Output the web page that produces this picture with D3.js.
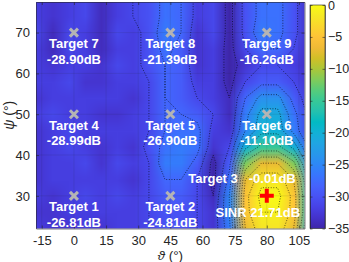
<!DOCTYPE html>
<html>
<head>
<meta charset="utf-8">
<script src="https://cdn.jsdelivr.net/npm/d3@7"></script>
<style>
  body { margin: 0; background: #fff; }
  svg { display: block; font-family: "Liberation Sans", Arial, sans-serif; }
</style>
</head>
<body>
<div id="chart"></div>
<script>
// grid of the beam pattern (dB)
const thetaCols = [-17.5, -10, -2.5, 5, 12.5, 20, 27.5, 35, 42.5, 50, 57.5, 65, 72.5, 80, 87.5, 95, 102.5, 110];
const psiRows = [78, 74, 70, 66, 62, 58, 54, 50, 46, 42, 38, 34, 30, 26, 22];
const gainDb = [
  [-32,-33,-32,-31,-34,-32,-31,-30, -27,-28,-32,-31,-35,-30,-27,-27,-30,-34],
  [-32,-33,-32,-31,-34,-32,-31,-30, -27,-28,-32,-31,-35,-30,-27,-27,-30,-34],
  [-31,-34,-31,-32,-34,-31,-32,-30, -26,-28,-33,-31,-35,-30,-26,-27,-30,-34],
  [-32,-34,-31,-32,-34,-32,-32,-30, -27,-29,-33,-32,-35,-31,-28,-28,-31,-34],
  [-32,-33,-32,-32,-33,-31,-32,-30, -28,-29,-33,-32,-35,-33,-31,-31,-32,-34],
  [-32,-32,-31,-33,-33,-32,-32,-31, -28,-29,-32,-32,-35,-31,-29,-29,-31,-33],
  [-33,-32,-32,-32,-32,-32,-33,-31, -28,-29,-31,-32,-34,-28,-24,-24,-29,-33],
  [-32,-31,-32,-32,-33,-33,-32,-31, -28,-28,-29,-31,-34,-26,-21,-21,-27,-32],
  [-33,-32,-31,-32,-32,-32,-32,-31, -28,-27,-27,-32,-33,-25,-20,-20,-26,-32],
  [-33,-32,-31,-32,-33,-32,-33,-30, -27,-26,-27,-33,-31,-20,-15,-15,-20,-29],
  [-33,-32,-32,-31,-33,-31,-32,-31, -26,-26,-29,-35,-29,-12, -7, -7,-12,-25],
  [-33,-32,-32,-32,-32,-32,-33,-31, -28,-28,-31,-35,-27, -7, -2, -2, -7,-21],
  [-32,-33,-32,-31,-32,-31,-32,-31, -29,-29,-31,-34,-25, -5,  0,  0, -5,-19],
  [-33,-33,-32,-32,-32,-32,-32,-31, -30,-30,-31,-33,-25, -5, -1, -1, -5,-19],
  [-32,-33,-33,-32,-33,-32,-32,-31, -30,-30,-31,-33,-26, -7, -2, -2, -7,-21]
];
const contourLevels = [-34, -31, -28, -25, -22, -19, -16, -13, -10, -7, -4, -1];

const xTicks = [-15, 0, 15, 30, 45, 60, 75, 90, 105];
const xTickLabels = ["-15", "0", "15", "30", "45", "60", "75", "80", "105"];
const yTicks = [30, 40, 50, 60, 70];
const cbTicks = [0, -5, -10, -15, -20, -25, -30, -35];

const targetNames = ["Target 1", "Target 2", "Target 3", "Target 4", "Target 5", "Target 6", "Target 7", "Target 8", "Target 9"];
const targetTheta = [0, 45, 90, 0, 45, 90, 0, 45, 90];
const targetPsi = [30, 30, 30, 50, 50, 50, 70, 70, 70];
const targetDb = ["-26.81", "-24.81", "-0.01", "-28.99", "-26.90", "-11.10", "-28.90", "-21.39", "-16.26"];
const sinrText = "SINR 21.71dB";

// parula, every third entry of the 64-colour map
const parula = [
  "#3e26a8", "#4432cb", "#4741e5", "#4852f4", "#4563fd", "#3875fe", "#2e87f7", "#2797eb",
  "#20a5e3", "#12b1d6", "#02bac3", "#24c1ae", "#37c897", "#57cc7a", "#81cc59", "#abc739",
  "#d1bf27", "#f0ba36", "#fec338", "#fad62d", "#f5e924", "#f9fb15"
];
const cMin = -35, cMax = 0;

const width = 349, height = 262;
const margin = { left: 36, right: 304.5, top: 2, bottom: 228.5 };

const x = d3.scaleLinear().domain([-17.7, 107.6]).range([margin.left, margin.right]);
const y = d3.scaleLinear().domain([22, 77.5]).range([margin.bottom, margin.top]);
const colorDomain = parula.map((c, i) => cMin + (cMax - cMin) * i / (parula.length - 1));
const color = d3.scaleLinear().domain(colorDomain).range(parula).clamp(true);

const svg = d3.select("#chart").append("svg")
  .attr("width", width)
  .attr("height", height);

svg.append("clipPath").attr("id", "plotclip")
  .append("rect")
  .attr("x", margin.left).attr("y", margin.top)
  .attr("width", margin.right - margin.left)
  .attr("height", margin.bottom - margin.top);

const plot = svg.append("g").attr("clip-path", "url(#plotclip)");

// heat map: one pixel per grid value, scaled up by the browser
const nx = thetaCols.length, ny = psiRows.length;
const dTheta = thetaCols[1] - thetaCols[0];
const dPsi = psiRows[0] - psiRows[1];
const canvas = document.createElement("canvas");
canvas.width = nx;
canvas.height = ny;
const ctx = canvas.getContext("2d");
gainDb.forEach((row, r) => {
  row.forEach((v, c) => {
    ctx.fillStyle = color(v);
    ctx.fillRect(c, r, 1, 1);
  });
});

const x0 = x(thetaCols[0] - dTheta / 2), x1 = x(thetaCols[nx - 1] + dTheta / 2);
const y0 = y(psiRows[0] + dPsi / 2), y1 = y(psiRows[ny - 1] - dPsi / 2);
plot.append("image")
  .attr("href", canvas.toDataURL())
  .attr("x", x0).attr("y", y0)
  .attr("width", x1 - x0).attr("height", y1 - y0)
  .attr("preserveAspectRatio", "none");

// contour lines
const contours = d3.contours().size([nx, ny]).thresholds(contourLevels)(gainDb.flat());
const toPlot = d3.geoTransform({
  point: function (gx, gy) {
    this.stream.point(
      x(thetaCols[0] + (gx - 0.5) * dTheta),
      y(psiRows[0] - (gy - 0.5) * dPsi)
    );
  }
});
const path = d3.geoPath(toPlot);
plot.append("g")
  .selectAll("path")
  .data(contours)
  .enter()
  .append("path")
  .attr("d", path)
  .attr("fill", "none")
  .attr("stroke", "#000")
  .attr("stroke-opacity", 0.75)
  .attr("stroke-width", 0.8)
  .attr("stroke-dasharray", "1,1.6");

// grid lines
plot.append("g").selectAll("line").data(xTicks).enter().append("line")
  .attr("x1", d => x(d)).attr("x2", d => x(d))
  .attr("y1", margin.top).attr("y2", margin.bottom)
  .attr("stroke", "#262626").attr("stroke-opacity", 0.18).attr("stroke-width", 0.6);
plot.append("g").selectAll("line").data(yTicks).enter().append("line")
  .attr("y1", d => y(d)).attr("y2", d => y(d))
  .attr("x1", margin.left).attr("x2", margin.right)
  .attr("stroke", "#262626").attr("stroke-opacity", 0.18).attr("stroke-width", 0.6);

// axes
const axisColor = "#262626";
const xAxis = svg.append("g")
  .attr("transform", "translate(0," + margin.bottom + ")")
  .call(d3.axisBottom(x).tickValues(xTicks).tickFormat((d, i) => xTickLabels[i])
    .tickSizeInner(-3).tickSizeOuter(0).tickPadding(7));
const xAxisTop = svg.append("g")
  .attr("transform", "translate(0," + margin.top + ")")
  .call(d3.axisTop(x).tickValues(xTicks).tickFormat("").tickSizeInner(-3).tickSizeOuter(0));
const yAxis = svg.append("g")
  .attr("transform", "translate(" + margin.left + ",0)")
  .call(d3.axisLeft(y).tickValues(yTicks).tickSizeInner(-3).tickSizeOuter(0).tickPadding(6));
const yAxisRight = svg.append("g")
  .attr("transform", "translate(" + margin.right + ",0)")
  .call(d3.axisRight(y).tickValues(yTicks).tickFormat("").tickSizeInner(-3).tickSizeOuter(0));

[xAxis, xAxisTop, yAxis, yAxisRight].forEach(g => {
  g.select(".domain").attr("stroke", axisColor).attr("stroke-width", 0.6);
  g.selectAll(".tick line").attr("stroke", axisColor).attr("stroke-width", 0.6);
  g.selectAll("text").attr("fill", axisColor)
    .style("font-family", '"Liberation Sans", Arial, sans-serif')
    .style("font-size", "13px");
});

// axis labels
svg.append("text")
  .attr("x", (margin.left + margin.right) / 2)
  .attr("y", 260)
  .attr("text-anchor", "middle")
  .attr("fill", axisColor)
  .style("font-size", "13.5px")
  .html('<tspan font-style="italic">ϑ</tspan> (°)');

svg.append("text")
  .attr("transform", "translate(14," + ((margin.top + margin.bottom) / 2) + ") rotate(-90)")
  .attr("text-anchor", "middle")
  .attr("fill", axisColor)
  .style("font-size", "14px")
  .html('<tspan font-style="italic">ψ</tspan> (°)');

// markers and annotations
const labels = svg.append("g")
  .attr("fill", "#fff")
  .style("font-weight", "bold")
  .style("font-size", "13px");

targetNames.forEach((name, i) => {
  const px = x(targetTheta[i]), py = y(targetPsi[i]);
  if (i === 2) {
    svg.append("path")
      .attr("d", `M${px - 7},${py}H${px + 7}M${px},${py - 7}V${py + 7}`)
      .attr("stroke", "#ff0000")
      .attr("stroke-width", 4);
    labels.append("text")
      .attr("x", px - 29).attr("y", py - 13)
      .attr("text-anchor", "end")
      .text(name);
    labels.append("text")
      .attr("x", px - 18).attr("y", py - 13)
      .attr("text-anchor", "start")
      .text(targetDb[i] + "dB");
    labels.append("text")
      .attr("x", px - 9).attr("y", py + 21)
      .attr("text-anchor", "middle")
      .text(sinrText);
  } else {
    svg.append("path")
      .attr("d", `M${px - 4},${py - 4}L${px + 4},${py + 4}M${px - 4},${py + 4}L${px + 4},${py - 4}`)
      .attr("stroke", "#b4b4b4")
      .attr("stroke-width", 3);
    labels.append("text")
      .attr("x", px).attr("y", py + 15.5)
      .attr("text-anchor", "middle")
      .text(name);
    labels.append("text")
      .attr("x", px).attr("y", py + 31)
      .attr("text-anchor", "middle")
      .text(targetDb[i] + "dB");
  }
});

// colorbar
const cb = { left: 310, right: 325, top: 5, bottom: 228.5 };
const cbScale = d3.scaleLinear().domain([cMin, cMax]).range([cb.bottom, cb.top]);
const grad = svg.append("defs").append("linearGradient")
  .attr("id", "cbgrad")
  .attr("x1", 0).attr("y1", 1).attr("x2", 0).attr("y2", 0);
grad.selectAll("stop").data(colorDomain).enter().append("stop")
  .attr("offset", d => (d - cMin) / (cMax - cMin))
  .attr("stop-color", d => color(d));
svg.append("rect")
  .attr("x", cb.left).attr("y", cb.top)
  .attr("width", cb.right - cb.left).attr("height", cb.bottom - cb.top)
  .attr("fill", "url(#cbgrad)");

const cbAxis = svg.append("g")
  .attr("transform", "translate(" + cb.right + ",0)")
  .call(d3.axisRight(cbScale).tickValues(cbTicks).tickSizeInner(-2.5).tickSizeOuter(0).tickPadding(3));
const cbAxisLeft = svg.append("g")
  .attr("transform", "translate(" + cb.left + ",0)")
  .call(d3.axisLeft(cbScale).tickValues(cbTicks).tickFormat("").tickSizeInner(-2.5).tickSizeOuter(0));
[cbAxis, cbAxisLeft].forEach(g => {
  g.select(".domain").attr("stroke", axisColor).attr("stroke-width", 0.6);
  g.selectAll(".tick line").attr("stroke", axisColor).attr("stroke-width", 0.6);
  g.selectAll("text").attr("fill", axisColor)
    .style("font-family", '"Liberation Sans", Arial, sans-serif')
    .style("font-size", "12.5px");
});
svg.append("rect")
  .attr("x", cb.left).attr("y", cb.top)
  .attr("width", cb.right - cb.left).attr("height", cb.bottom - cb.top)
  .attr("fill", "none").attr("stroke", axisColor).attr("stroke-width", 0.6);
</script>
</body>
</html>
